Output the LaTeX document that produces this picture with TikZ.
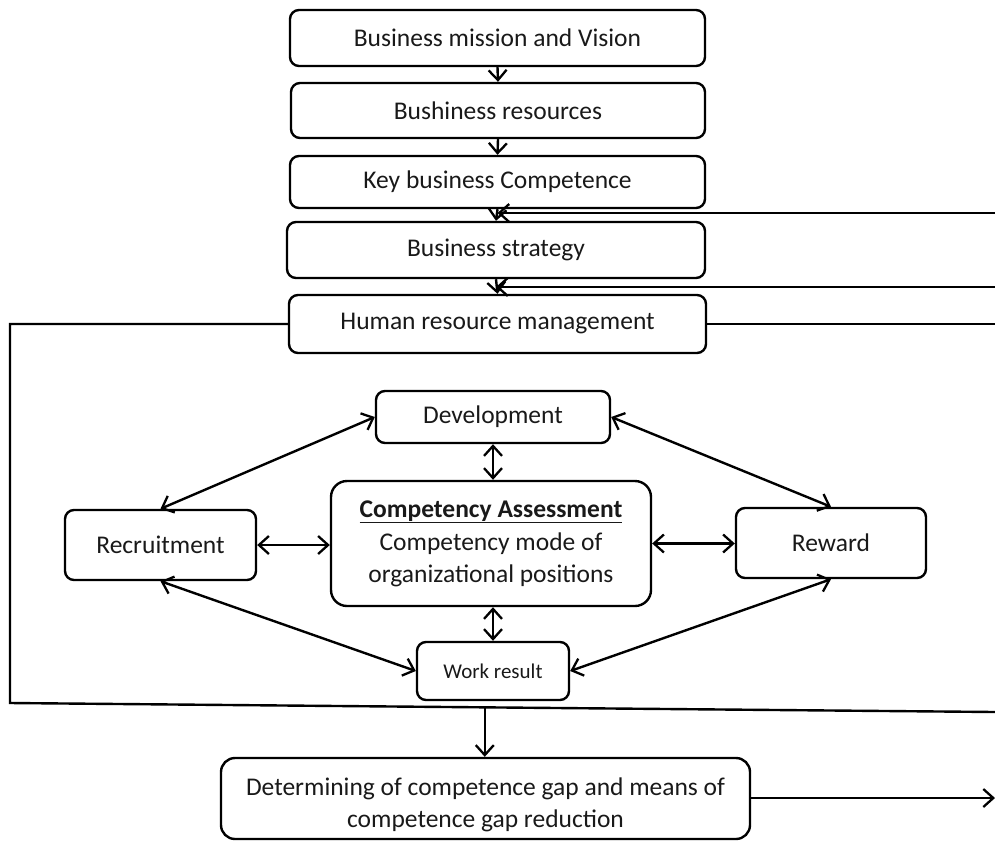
\documentclass[tikz,border=0pt]{standalone}
\usepackage{fontspec}
\setmainfont{Carlito}
\usetikzlibrary{arrows.meta,calc}
\begin{document}
\begin{tikzpicture}[x=1pt,y=-1pt,
  box/.style={draw, rounded corners=9pt, line width=2.4pt, align=center, inner sep=0pt,
    font=\fontsize{25.5}{32}\selectfont, text=black!90},
  conn/.style={line width=2.4pt, -{Straight Barb[length=10pt,width=18pt,line width=2.3pt]}},
  dconn/.style={line width=2.4pt, {Straight Barb[length=10pt,width=18pt,line width=2.3pt]}-{Straight Barb[length=10pt,width=18pt,line width=2.3pt]}},
  plain/.style={line width=2.4pt}]
\useasboundingbox (0,0) rectangle (995,841);
\begin{scope}
\clip (0,0) rectangle (995,841);
\node[box, minimum width=415pt, minimum height=56pt] (b1) at (497.5,38) {Business mission and Vision};
\node[box, minimum width=414pt, minimum height=55pt] (b2) at (498,110.5) {Bushiness resources};
\node[box, minimum width=415pt, minimum height=52pt] (b3) at (497.5,182) {Key business Competence};
\node[box, minimum width=418pt, minimum height=56pt] (b4) at (496,250) {Business strategy};
\node[box, minimum width=417pt, minimum height=58pt] (b5) at (497.5,324) {Human resource management};
\node[box, minimum width=234pt, minimum height=52pt] (dev) at (493,417) {Development};
\node[box, minimum width=320pt, minimum height=125pt, rounded corners=16pt] (ca) at (491,543.5)
  {\textbf{\underline{Competency Assessment}}\\[1pt]Competency mode of\\organizational positions};
\node[box, minimum width=191pt, minimum height=70pt] (rec) at (160.5,545) {Recruitment};
\node[box, minimum width=190pt, minimum height=70pt] (rew) at (831,543) {Reward};
\node[box, minimum width=152pt, minimum height=58pt, font=\fontsize{21}{26}\selectfont] (wr) at (493,671) {Work result};
\node[box, minimum width=529pt, minimum height=81pt, rounded corners=14pt] (gap) at (485.5,798.5)
  {\raisebox{-7pt}[\height][\depth]{\begin{tabular}{@{}c@{}}Determining of competence gap and means of\\competence gap reduction\end{tabular}}};

% top chain
\draw[conn] (b1.south) -- (b2.north);
\draw[conn] (b2.south) -- (b3.north);
\draw[conn] (b3.south) -- (b4.north);
\draw[conn] (b4.south) -- (b5.north);

% feedback lines from the right
\coordinate (f1) at (995,213);
\coordinate (f2) at (995,287);
\draw[conn] (f1) -- (f1 -| b3.south);
\draw[conn] (f2) -- (f2 -| b4.south);

% HRM frame lines
\coordinate (l1) at (10,324);
\coordinate (l2) at (10,703);
\coordinate (r1) at (995,324);
\coordinate (r2) at (995,712);
\draw[plain] (b5.west) -- (l1) -- (l2) -- (r2);
\draw[plain] (b5.east) -- (r1);
\coordinate (m) at ($(l2)!0.482!(r2)$);
\draw[conn, line width=2pt] (m) -- (m |- gap.north);
\coordinate (g2) at (995,798);
\draw[conn] (gap.east |- g2) -- (g2);

% middle network
\draw[dconn] (rec.north) -- (dev.west);
\draw[dconn] (rew.north) -- (dev.east);
\draw[dconn] (rec.south) -- (wr.west);
\draw[dconn] (rew.south) -- (wr.east);
\draw[dconn] (rec.east) -- (rec.east -| ca.west);
\draw[dconn] (ca.east) -- (ca.east -| rew.west);
\draw[dconn] (dev.south) -- (dev.south |- ca.north);
\draw[dconn] (ca.south -| wr.north) -- (wr.north);
\end{scope}
\end{tikzpicture}
\end{document}
